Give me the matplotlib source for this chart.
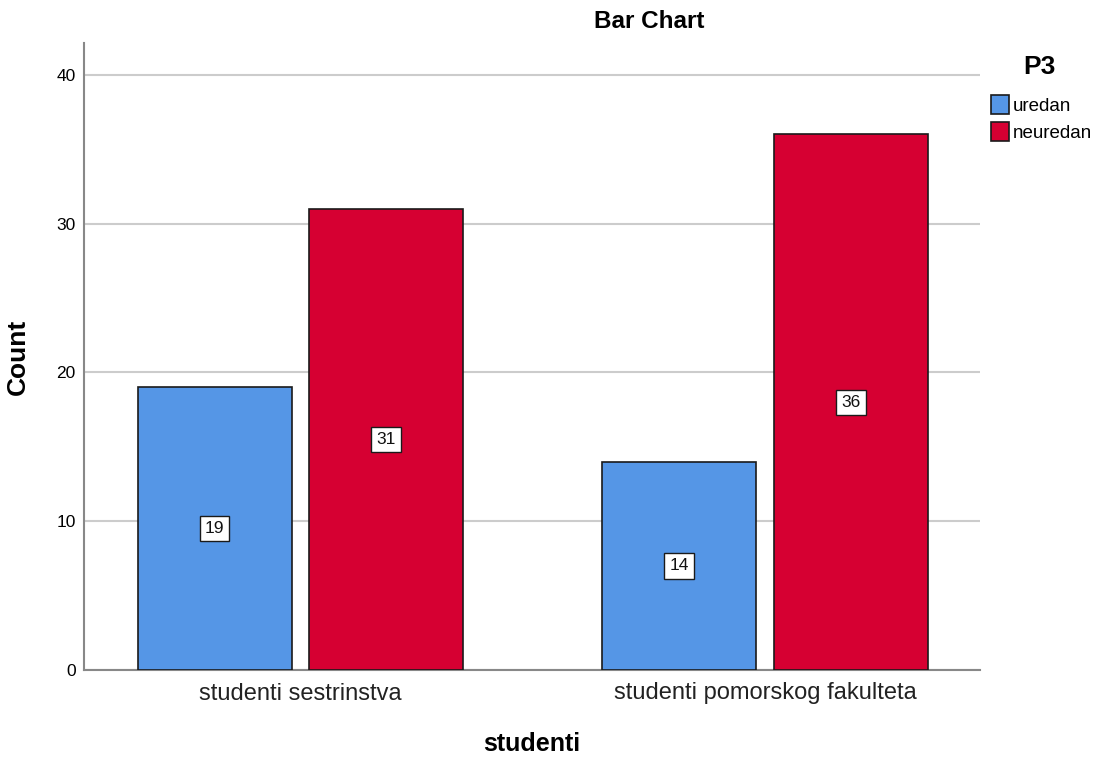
import matplotlib
matplotlib.use("Agg")
import matplotlib.pyplot as plt
import numpy as np

plt.rcParams['font.family'] = ['Liberation Sans', 'DejaVu Sans']

categories = ["studenti sestrinstva", "studenti pomorskog fakulteta"]
series_names = ["uredan", "neuredan"]
uredan = [19, 14]
neuredan = [31, 36]
colors = ["#5596e6", "#d60032"]
yticks = [0, 10, 20, 30, 40]

fig = plt.figure(figsize=(10.94, 7.58), dpi=100)
ax = fig.add_axes([84 / 1094, 1 - 670 / 758, (980 - 84) / 1094, (670 - 43) / 758])

x = np.arange(len(categories))
width = 0.3315
offset = 0.185
for vals, name, col, sgn in [(uredan, series_names[0], colors[0], -1),
                             (neuredan, series_names[1], colors[1], 1)]:
    bars = ax.bar(x + sgn * offset, vals, width, color=col, edgecolor="#1a1a1a",
                  linewidth=1.2, label=name, zorder=3)
    for b, v in zip(bars, vals):
        ax.text(b.get_x() + b.get_width() / 2, v / 2, str(v), ha="center", va="center",
                fontsize=12.5, zorder=4, color="#111111",
                bbox=dict(boxstyle="square,pad=0.3", facecolor="white",
                          edgecolor="#1a1a1a", linewidth=1))

ax.set_xlim(-0.466, 1.463)
ax.set_ylim(0, 42.15)
ax.set_yticks(yticks)
ax.set_yticklabels([str(t) for t in yticks], fontsize=12.5)
ax.set_xticks(x)
ax.set_xticklabels(categories, fontsize=17, color="#222222")
ax.tick_params(axis="x", length=0, pad=9)
ax.tick_params(axis="y", length=0, pad=6)
ax.yaxis.grid(True, color="#cccccc", linewidth=1.5, zorder=0)
ax.set_axisbelow(True)
for s in ["top", "right"]:
    ax.spines[s].set_visible(False)
ax.spines["left"].set_color("#888888")
ax.spines["bottom"].set_color("#888888")
ax.spines["left"].set_linewidth(1.5)
ax.spines["bottom"].set_linewidth(1.5)

ax.set_ylabel("Count", fontsize=19, fontweight="bold", labelpad=19)
ax.set_xlabel("studenti", fontsize=18, fontweight="bold", labelpad=20)
fig.text(649 / 1094, 1 - 22 / 758, "Bar Chart", ha="center", va="center",
         fontsize=17.5, fontweight="bold")

# legend title drawn separately so its gap to the entries can be set freely
fig.text(1039 / 1094, 1 - 67 / 758, "P3", ha="center", va="center",
         fontsize=19, fontweight="bold")
leg = fig.legend(loc="upper left", bbox_to_anchor=(978 / 1094, 1 - 82 / 758),
                 frameon=False, fontsize=13.5, handlelength=0.95,
                 handleheight=1.2, handletextpad=0.2, labelspacing=0.35,
                 borderpad=0.2)

fig.savefig("out.png", dpi=100)
